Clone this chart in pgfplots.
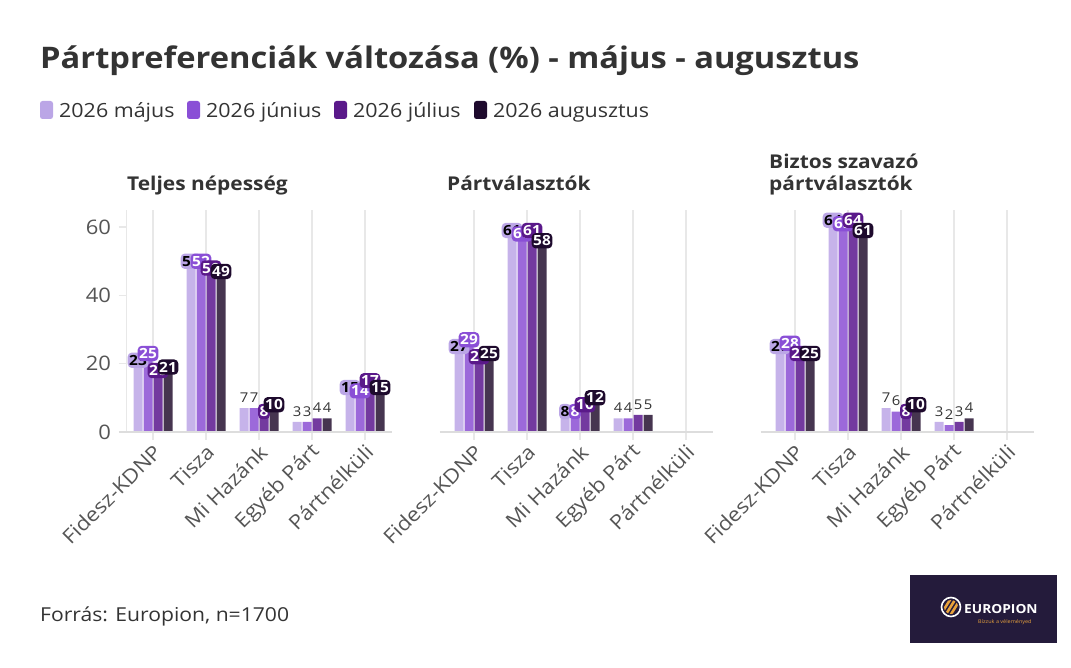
\documentclass[border=0pt]{standalone}
\usepackage{fontspec}
\setmainfont{Open Sans}[FakeStretch=1.1]
\usepackage{pgfplots}
\pgfplotsset{compat=1.18}
\usepackage{pgfplotstable}

\definecolor{cMay}{HTML}{C6B3EA}
\definecolor{cJun}{HTML}{9C69DA}
\definecolor{cJul}{HTML}{733A9F}
\definecolor{cAug}{HTML}{463550}
\definecolor{lMay}{HTML}{BBA6E6}
\definecolor{lJun}{HTML}{8A4FD6}
\definecolor{lJul}{HTML}{5A198A}
\definecolor{lAug}{HTML}{1E0A2D}
\definecolor{txt}{HTML}{333333}
\definecolor{ticktxt}{HTML}{555555}
\definecolor{gridc}{HTML}{E8E8E8}
\definecolor{basec}{HTML}{DDDDDD}
\definecolor{logoc}{HTML}{241B3B}
\definecolor{gold}{HTML}{E9A23B}

\pgfplotstableread{
x a b c d
0 23 25 20 21
1 52 52 50 49
2 7 7 8 10
3 3 3 4 4
4 15 14 17 15
}\tA
\pgfplotstableread{
x a b c d
0 27 29 24 25
1 61 60 61 58
2 8 8 10 12
3 4 4 5 5
}\tB
\pgfplotstableread{
x a b c d
0 27 28 25 25
1 64 63 64 61
2 7 6 8 10
3 3 2 3 4
}\tC

\pgfplotsset{
  panel/.style={
    scale only axis, width=272.95pt, height=222pt, anchor=south west,
    xmin=-0.65, xmax=4.5, ymin=0, ymax=65,
    axis line style={draw=none},
    xtick={0,1,2,3,4},
    xticklabels={Fidesz-KDNP,Tisza,Mi Hazánk,Egyéb Párt,Pártnélküli},
    xmajorgrids, grid style={draw=gridc, line width=1.2pt},
    tick align=outside, xtick pos=bottom, ytick pos=left,
    xtick style={draw=gridc, line width=1.2pt},
    major tick length=8pt,
    xticklabel style={xshift=7pt, yshift=-6pt, rotate=45, anchor=east, font=\fontsize{20}{20}\selectfont, text=ticktxt},
    yticklabel style={xshift=4pt, font=\fontsize{20}{20}\selectfont, text=ticktxt},
    ytick style={draw=none},
    clip=false,
    /pgf/number format/assume math mode=true,
  },
  bars/.style n args={2}{ybar, bar width=9pt, bar shift=#1, fill=#2, draw=none},
  lin/.style n args={3}{draw=none, mark=none, nodes near coords, point meta=y,
     restrict y to domain=7.5:100,
     nodes near coords style={anchor=north, xshift=#1, yshift=1pt, fill=#2, text=#3,
       rounded corners=4pt, inner xsep=1.5pt, inner ysep=2.5pt,
       font=\fontsize{14}{14}\selectfont\bfseries}},
  lout/.style={draw=none, mark=none, nodes near coords, point meta=y,
     restrict y to domain=0:7.5,
     nodes near coords style={anchor=south, xshift=#1, yshift=2pt, text=txt,
       font=\fontsize{13.5}{13.5}\selectfont}},
}

\newcommand{\panelplots}[1]{%
  \addplot[bars={-15pt}{cMay}] table[x=x,y=a]{#1};
  \addplot[bars={-5pt}{cJun}] table[x=x,y=b]{#1};
  \addplot[bars={5pt}{cJul}] table[x=x,y=c]{#1};
  \addplot[bars={15pt}{cAug}] table[x=x,y=d]{#1};
  \draw[basec, line width=1.5pt] (axis cs:-0.65,0) -- (axis cs:4.5,0);
  \addplot[lin={-15pt}{lMay}{black}] table[x=x,y=a]{#1};
  \addplot[lin={-5pt}{lJun}{white}] table[x=x,y=b]{#1};
  \addplot[lin={5pt}{lJul}{white}] table[x=x,y=c]{#1};
  \addplot[lin={15pt}{lAug}{white}] table[x=x,y=d]{#1};
  \addplot[lout={-15pt}] table[x=x,y=a]{#1};
  \addplot[lout={-5pt}] table[x=x,y=b]{#1};
  \addplot[lout={5pt}] table[x=x,y=c]{#1};
  \addplot[lout={15pt}] table[x=x,y=d]{#1};
}

\begin{document}
\begin{tikzpicture}
\useasboundingbox (0pt,0pt) rectangle (1071pt,667pt);

\begin{scope}[x=1pt,y=1pt]
% title
\node[anchor=base west, inner sep=0pt, text=txt, font=\fontsize{29.7}{29.7}\selectfont\bfseries]
  at (40,598) {Pártpreferenciák változása (\%) - május - augusztus};

% legend
\foreach \c/\xs/\lab in {lMay/40/2026 május, lJun/187/2026 június, lJul/334/2026 július, lAug/474/2026 augusztus}{
  \fill[\c, rounded corners=2.5pt] (\xs,548) rectangle (\xs+13,566);
  \node[anchor=base west, inner sep=0pt, text=txt, font=\fontsize{19.5}{19.5}\selectfont]
    at (\xs+19,549) {\lab};
}

% panel titles
\node[anchor=base west, inner sep=0pt, text=txt, font=\fontsize{19}{19}\selectfont\bfseries] at (127,476) {Teljes népesség};
\node[anchor=base west, inner sep=0pt, text=txt, font=\fontsize{19}{19}\selectfont\bfseries] at (447,476) {Pártválasztók};
\node[anchor=base west, inner sep=0pt, text=txt, font=\fontsize{19}{19}\selectfont\bfseries] at (769,498) {Biztos szavazó};
\node[anchor=base west, inner sep=0pt, text=txt, font=\fontsize{19}{19}\selectfont\bfseries] at (769,476) {pártválasztók};

% footer
\node[anchor=base west, inner sep=0pt, text=txt, font=\fontsize{19.2}{19.2}\selectfont]
  at (40,46) {Forrás: Europion, n=1700};

% logo
\fill[logoc] (910,24) rectangle (1057,92);
\draw[white, line width=1.6pt] (951,60) circle (9.5);
\begin{scope}
  \clip (951,60) circle (7);
  \foreach \o in {-6,-1,4}{
    \fill[gold] (945+\o,52) -- (948+\o,52) -- (958+\o,68) -- (955+\o,68) -- cycle;
  }
\end{scope}
\node[anchor=base west, inner sep=0pt, text=white, font=\fontsize{12.5}{12.5}\selectfont\bfseries]
  at (964,54) {EUROPION};
\node[anchor=base west, inner sep=0pt, text=gold, font=\fontsize{5}{5}\selectfont]
  at (978,44) {Bízzuk a véleményed};
\end{scope}

% panel 1
\begin{axis}[panel, at={(118.55pt,235pt)}, ytick={0,20,40,60}]
  \draw[gridc, line width=1.2pt] (axis cs:-0.5,0) -- (axis cs:-0.5,65);
  \draw[gridc, line width=1.2pt] (axis cs:-0.65,20) -- (axis cs:-0.5,20);
  \draw[gridc, line width=1.2pt] (axis cs:-0.65,40) -- (axis cs:-0.5,40);
  \draw[gridc, line width=1.2pt] (axis cs:-0.65,60) -- (axis cs:-0.5,60);
  \panelplots{\tA}
\end{axis}

% panel 2
\begin{axis}[panel, at={(439.55pt,235pt)}, ytick=\empty]
  \panelplots{\tB}
\end{axis}

% panel 3
\begin{axis}[panel, at={(760.55pt,235pt)}, ytick=\empty]
  \panelplots{\tC}
\end{axis}
\end{tikzpicture}
\end{document}
